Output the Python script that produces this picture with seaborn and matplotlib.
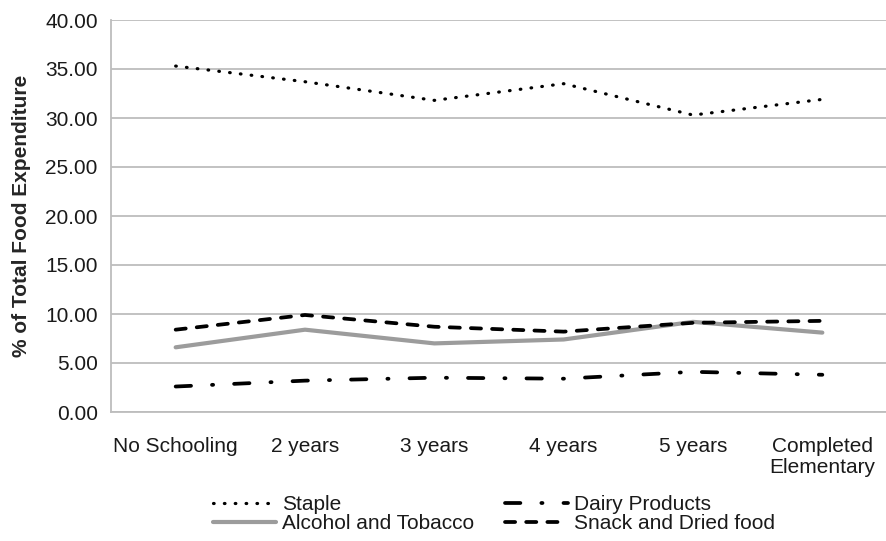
import numpy as np
import pandas as pd
import matplotlib
matplotlib.use("Agg")
import matplotlib.pyplot as plt
from matplotlib.ticker import FixedLocator, FormatStrFormatter
import seaborn as sns

# Data
categories = ["No Schooling", "2 years", "3 years", "4 years", "5 years",
              "Completed\nElementary"]
staple = [35.3, 33.7, 31.8, 33.5, 30.3, 31.9]
alcohol_tobacco = [6.6, 8.4, 7.0, 7.4, 9.2, 8.1]
dairy = [2.6, 3.2, 3.5, 3.4, 4.1, 3.8]
snack_dried = [8.4, 9.9, 8.7, 8.2, 9.1, 9.3]

series = {
    "Staple": staple,
    "Alcohol and Tobacco": alcohol_tobacco,
    "Dairy Products": dairy,
    "Snack and Dried food": snack_dried,
}

df = pd.DataFrame([
    {"Education": c, "Series": name, "Share": v}
    for name, vals in series.items() for c, v in zip(categories, vals)
])

sns.set_style("white")
plt.rcParams["font.family"] = ["Liberation Sans", "DejaVu Sans"]
plt.rcParams["text.color"] = "#1a1a1a"

grid_col = "#bdbdbd"
styles = {
    "Staple": dict(color="black", lw=2.3, linestyle=(0, (0.2, 3.2)),
                   dash_capstyle="round"),
    "Alcohol and Tobacco": dict(color="#9c9c9c", lw=3.0, linestyle="-"),
    "Dairy Products": dict(color="black", lw=2.7,
                           linestyle=(0, (4.1, 5.6, 0.3, 5.6)),
                           dash_capstyle="round"),
    "Snack and Dried food": dict(color="black", lw=2.7, linestyle=(0, (2.7, 2.95)),
                                 dash_capstyle="round"),
}

fig = plt.figure(figsize=(8.87, 5.41), dpi=100)
ax = fig.add_axes([111 / 887, 1 - 412 / 541, 776 / 887, 392 / 541])

for name in series:
    sub = df[df["Series"] == name]
    sns.lineplot(data=sub, x="Education", y="Share", ax=ax, label=name,
                 sort=False, **styles[name])

ax.set_ylim(0, 40)
ax.set_xlim(-0.5, 5.5)
ax.set_yticks(np.arange(0, 41, 5))
ax.yaxis.set_major_formatter(FormatStrFormatter("%.2f"))
ax.yaxis.grid(True, color=grid_col, lw=1.3)
ax.set_axisbelow(True)

ax.xaxis.set_minor_locator(FixedLocator(np.arange(-0.5, 6, 1)))
ax.tick_params(axis="x", which="major", length=0, pad=18, labelsize=15,
               labelcolor="#1a1a1a")
ax.tick_params(axis="x", which="minor", length=5, color=grid_col, width=1.3)
ax.tick_params(axis="y", length=4, color=grid_col, width=1.3, pad=5.5,
               labelsize=15, labelcolor="#1a1a1a")
for lab in ax.get_xticklabels():
    lab.set_linespacing(1.15)

for side in ["top", "right"]:
    ax.spines[side].set_visible(False)
for side in ["left", "bottom"]:
    ax.spines[side].set_color(grid_col)
    ax.spines[side].set_linewidth(1.3)

ax.set_xlabel("")
ax.set_ylabel("% of Total Food Expenditure", fontsize=15, fontweight="bold",
              labelpad=10)

handles, labels = ax.get_legend_handles_labels()
ax.legend(handles, labels, ncol=2, loc="upper left", frameon=False,
          bbox_to_anchor=(213 / 887, 1 - 495 / 541), bbox_transform=fig.transFigure,
          fontsize=15, handlelength=3.0, handletextpad=0.3, columnspacing=1.5,
          labelspacing=0.0, borderpad=0, borderaxespad=0)

fig.savefig("out.png", dpi=100)
